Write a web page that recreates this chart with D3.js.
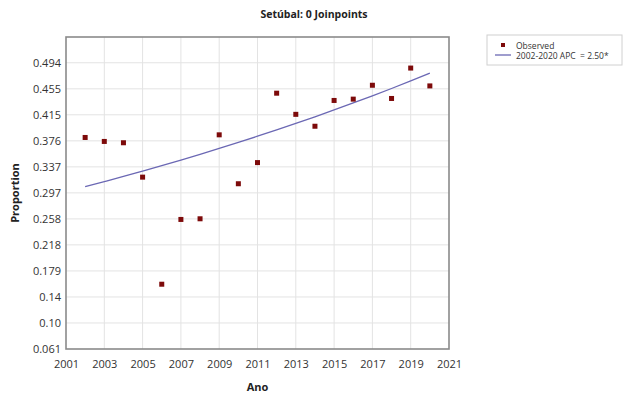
<!DOCTYPE html>
<html><head><meta charset="utf-8">
<script src="https://cdn.jsdelivr.net/npm/d3@7"></script>
<style>body{margin:0;background:#fff}svg{display:block}text{font-family:"Open Sans","Noto Sans",sans-serif}</style>
</head><body><svg id="c" width="624" height="394"></svg>
<script>
const years = [2002,2003,2004,2005,2006,2007,2008,2009,2010,2011,2012,2013,2014,2015,2016,2017,2018,2019,2020];
const observed = [0.381,0.375,0.373,0.321,0.159,0.257,0.258,0.385,0.311,0.343,0.448,0.416,0.398,0.437,0.439,0.460,0.440,0.486,0.459];
const fitted = [0.3066,0.3143,0.3221,0.3302,0.3384,0.3469,0.3556,0.3645,0.3736,0.3829,0.3925,0.4023,0.4123,0.4226,0.4332,0.4440,0.4551,0.4665,0.4782];
const xTicks = [2001,2003,2005,2007,2009,2011,2013,2015,2017,2019,2021];
const yTicks = [0.061,0.1004,0.1397,0.1791,0.2185,0.2578,0.2972,0.3365,0.3759,0.4153,0.4546,0.494];
const yTickLabels = ["0.061","0.10","0.14","0.179","0.218","0.258","0.297","0.337","0.376","0.415","0.455","0.494"];
const title = "Setúbal: 0 Joinpoints";
const legendLabels = ["Observed","2002-2020 APC  = 2.50*"];

const svg = d3.select("#c");
const L=66,R=449,T=37,B=349;
const x = d3.scaleLinear().domain([2001,2021]).range([L,R]);
const y = d3.scaleLinear().domain([0.061,0.533]).range([B,T]);

// grid
svg.append("g").selectAll("line").data(xTicks.slice(1,-1)).join("line")
  .attr("x1",d=>x(d)).attr("x2",d=>x(d)).attr("y1",T).attr("y2",B)
  .attr("stroke","#e3e3e3").attr("stroke-width",1);
svg.append("g").selectAll("line").data(yTicks.slice(1)).join("line")
  .attr("x1",L).attr("x2",R).attr("y1",d=>y(d)).attr("y2",d=>y(d))
  .attr("stroke","#e3e3e3").attr("stroke-width",1);

// axes
const xa = svg.append("g").attr("transform",`translate(0,${B})`)
  .call(d3.axisBottom(x).tickValues(xTicks).tickFormat(d3.format("d")).tickSize(0).tickPadding(11));
const ya = svg.append("g").attr("transform",`translate(${L},0)`)
  .call(d3.axisLeft(y).tickValues(yTicks).tickFormat((d,i)=>yTickLabels[i]).tickSize(0).tickPadding(5));
[xa,ya].forEach(a=>{a.select(".domain").remove();a.selectAll("text").attr("font-size",11).attr("fill","#333");});

// border
svg.append("rect").attr("x",L).attr("y",T).attr("width",R-L).attr("height",B-T)
  .attr("fill","none").attr("stroke","#8a8a8a").attr("stroke-width",1.6);

// fitted line
svg.append("path").datum(years.map((yr,i)=>[yr,fitted[i]]))
  .attr("d",d3.line().x(d=>x(d[0])).y(d=>y(d[1])).curve(d3.curveMonotoneX))
  .attr("fill","none").attr("stroke","#6b68b4").attr("stroke-width",1.3);

// points
svg.append("g").selectAll("rect").data(years.map((yr,i)=>[yr,observed[i]])).join("rect")
  .attr("x",d=>x(d[0])-2.5).attr("y",d=>y(d[1])-2.5).attr("width",5).attr("height",5)
  .attr("fill","#7d0a0a");

// titles
svg.append("text").attr("x",314).attr("y",18).attr("text-anchor","middle")
  .attr("font-size",10.5).attr("font-weight","bold").attr("fill","#222").text(title);
svg.append("text").attr("x",(L+R)/2).attr("y",391).attr("text-anchor","middle")
  .attr("font-size",11).attr("font-weight","bold").attr("fill","#222").text("Ano");
svg.append("text").attr("transform",`translate(19,${(T+B)/2}) rotate(-90)`).attr("text-anchor","middle")
  .attr("font-size",11).attr("font-weight","bold").attr("fill","#222").text("Proportion");

// legend
const lg = svg.append("g");
lg.append("rect").attr("x",487).attr("y",35).attr("width",135).attr("height",30)
  .attr("fill","#fff").attr("stroke","#d0d0d0").attr("stroke-width",1);
lg.append("rect").attr("x",501).attr("y",43).attr("width",4).attr("height",4).attr("fill","#7d0a0a");
lg.append("line").attr("x1",495).attr("x2",511).attr("y1",55).attr("y2",55).attr("stroke","#6b68b4").attr("stroke-width",1.3);
lg.append("text").attr("x",516).attr("y",49).attr("font-size",8.5).attr("fill","#333").text(legendLabels[0]);
lg.append("text").attr("x",516).attr("y",59).attr("font-size",8.5).attr("fill","#333")
  .style("white-space","pre").text(legendLabels[1]);
</script></body></html>
